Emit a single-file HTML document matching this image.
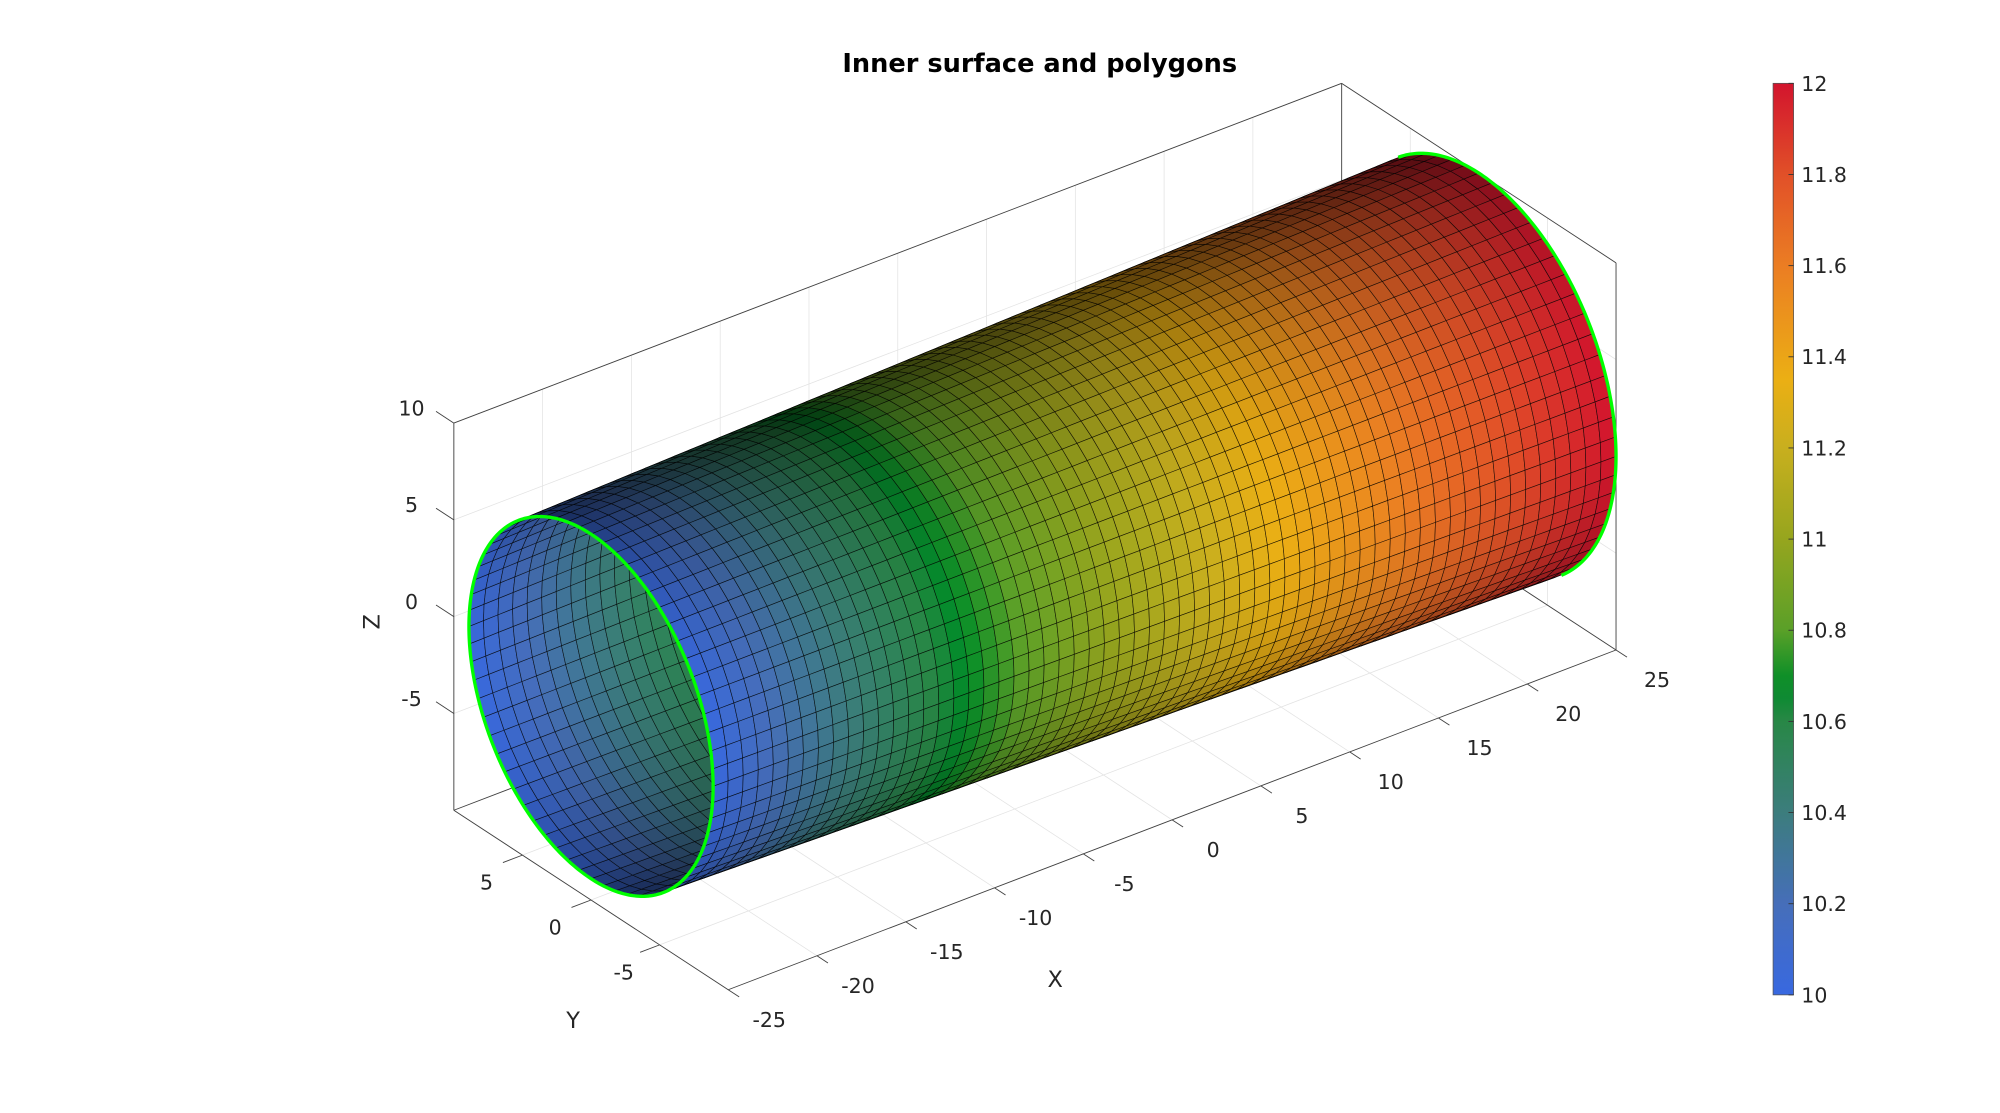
<!DOCTYPE html>
<html><head><meta charset="utf-8"><style>
html,body{margin:0;padding:0;background:#fff;}
svg{display:block;font-family:"DejaVu Sans","Liberation Sans",sans-serif;}
</style></head>
<body>
<svg id="chart" width="2000" height="1113" viewBox="0 0 1560 868.14" xmlns="http://www.w3.org/2000/svg">
<defs>
<linearGradient id="cbgrad" x1="0" y1="1" x2="0" y2="0"></linearGradient>
</defs>
<rect width="1560" height="869" fill="#fff"/>
<text x="811" y="56" text-anchor="middle" font-weight="bold" font-size="20" fill="#000">Inner surface and polygons</text>
<g id="grid"></g>
<g id="box"></g>
<g id="surf"></g>
<g id="rims"></g>
<g id="ticks"></g>
<g id="cbar"></g>
</svg>
<script>
const xTicks = [-25,-20,-15,-10,-5,0,5,10,15,20,25];
const yTicks = [-5,0,5];
const zTicks = [-5,0,5,10];
const cbTicks = [10,10.2,10.4,10.6,10.8,11,11.2,11.4,11.6,11.8,12];
const xLim = [-25,25], yLim = [-10,10], zLim = [-10,10];
const radiusEnds = [8.9,10];
const colorRange = [10,12];
const cmapVals = [10,10.2,10.4,10.6,10.68,10.8,11,11.2,11.35,11.6,11.8,12];
const cmapR = [56,70,60,40,0,90,150,200,235,235,225,210];
const cmapG = [104,110,125,135,140,160,165,175,175,125,80,20];
const cmapB = [224,185,125,70,40,40,30,30,20,35,40,45];

const NS="http://www.w3.org/2000/svg";
function mk(tag,attrs,parent){const e=document.createElementNS(NS,tag);for(const k in attrs)e.setAttribute(k,attrs[k]);parent.appendChild(e);return e;}
function P(x,y,z){
  return [568+(x-xLim[0])*13.85-(y-yLim[0])*10.7, 772-(x-xLim[0])*5.3-(y-yLim[0])*7.0-(z-zLim[0])*15.1];
}
function cmap(v){
  if(v<=cmapVals[0])return [cmapR[0],cmapG[0],cmapB[0]];
  for(let i=1;i<cmapVals.length;i++){
    if(v<=cmapVals[i]){const t=(v-cmapVals[i-1])/(cmapVals[i]-cmapVals[i-1]);
      return [cmapR[i-1]+t*(cmapR[i]-cmapR[i-1]),cmapG[i-1]+t*(cmapG[i]-cmapG[i-1]),cmapB[i-1]+t*(cmapB[i]-cmapB[i-1])];}
  }
  const n=cmapVals.length-1;return [cmapR[n],cmapG[n],cmapB[n]];
}
const grid=document.getElementById('grid'),box=document.getElementById('box'),surf=document.getElementById('surf'),rims=document.getElementById('rims'),ticks=document.getElementById('ticks'),cbar=document.getElementById('cbar');
function line(a,b,stroke,w,parent,name){const l=mk('line',{x1:a[0],y1:a[1],x2:b[0],y2:b[1],stroke:stroke,'stroke-width':w},parent);
  
  return l;}
const gc="#e3e3e3";
xTicks.forEach(x=>{line(P(x,yLim[1],zLim[0]),P(x,yLim[1],zLim[1]),gc,0.6,grid,'grid-back-x');
  line(P(x,yLim[0],zLim[0]),P(x,yLim[1],zLim[0]),gc,0.6,grid,'grid-floor-x');});
zTicks.forEach(z=>{line(P(xLim[0],yLim[1],z),P(xLim[1],yLim[1],z),gc,0.6,grid,'grid-back-z');
  line(P(xLim[1],yLim[0],z),P(xLim[1],yLim[1],z),gc,0.6,grid,'grid-side-z');});
yTicks.forEach(y=>{line(P(xLim[0],y,zLim[0]),P(xLim[1],y,zLim[0]),gc,0.6,grid,'grid-floor-y');
  line(P(xLim[1],y,zLim[0]),P(xLim[1],y,zLim[1]),gc,0.6,grid,'grid-side-y');});
const bc="#404040";
[[[xLim[0],yLim[1],zLim[1]],[xLim[1],yLim[1],zLim[1]]],[[xLim[1],yLim[1],zLim[1]],[xLim[1],yLim[0],zLim[1]]],
 [[xLim[1],yLim[0],zLim[1]],[xLim[1],yLim[0],zLim[0]]],[[xLim[0],yLim[1],zLim[0]],[xLim[0],yLim[1],zLim[1]]],
 [[xLim[0],yLim[1],zLim[0]],[xLim[0],yLim[0],zLim[0]]],[[xLim[0],yLim[0],zLim[0]],[xLim[1],yLim[0],zLim[0]]],
 [[xLim[1],yLim[1],zLim[0]],[xLim[1],yLim[1],zLim[1]]],[[xLim[0],yLim[1],zLim[0]],[xLim[1],yLim[1],zLim[0]]],
 [[xLim[1],yLim[1],zLim[0]],[xLim[1],yLim[0],zLim[0]]]].forEach(s=>line(P(...s[0]),P(...s[1]),bc,0.7,box,'box-edge'));
const V=[-163.4,-211.9,155.7];
const L=[-0.3,-0.8,0.25];
const nT=64,nX=60;
const back=[],front=[];
function rad(x){return radiusEnds[0]+(x-xLim[0])/(xLim[1]-xLim[0])*(radiusEnds[1]-radiusEnds[0]);}
for(let i=0;i<nX;i++){
  const x0=xLim[0]+(xLim[1]-xLim[0])*i/nX, x1=xLim[0]+(xLim[1]-xLim[0])*(i+1)/nX, xm=(x0+x1)/2;
  const f=(xm-xLim[0])/(xLim[1]-xLim[0]);
  const val=colorRange[0]+Math.pow(f,0.85)*(colorRange[1]-colorRange[0]);
  const base=cmap(val);
  for(let j=0;j<nT;j++){
    const t0=2*Math.PI*j/nT,t1=2*Math.PI*(j+1)/nT,tm=(t0+t1)/2;
    const ny=Math.cos(tm),nz=Math.sin(tm);
    const facing=V[1]*ny+V[2]*nz>0;
    const sgn=facing?1:-1;
    let d=sgn*(L[1]*ny+L[2]*nz); const I=Math.min(1,0.42+0.7*Math.max(0,d));
    const col=`rgb(${Math.round(base[0]*I)},${Math.round(base[1]*I)},${Math.round(base[2]*I)})`;
    const pts=[P(x0,rad(x0)*Math.cos(t0),rad(x0)*Math.sin(t0)),P(x1,rad(x1)*Math.cos(t0),rad(x1)*Math.sin(t0)),
      P(x1,rad(x1)*Math.cos(t1),rad(x1)*Math.sin(t1)),P(x0,rad(x0)*Math.cos(t1),rad(x0)*Math.sin(t1))];
    (facing?front:back).push({pts,col});
  }
}
back.concat(front).forEach(q=>{
  const p=mk('polygon',{points:q.pts.map(a=>a[0].toFixed(2)+','+a[1].toFixed(2)).join(' '),fill:q.col,stroke:'rgba(0,0,0,0.75)','stroke-width':0.5,'stroke-linejoin':'round'},surf);
  
  
});
function rimPath(x,onlyFront){
  let d='',pen=false;
  for(let k=0;k<=360;k++){const t=2*Math.PI*k/360;const ny=Math.cos(t),nz=Math.sin(t);
    const vis=!onlyFront||(V[1]*ny+V[2]*nz>0);
    if(vis){const p=P(x,rad(x)*ny,rad(x)*nz);d+=(pen?'L':'M')+p[0].toFixed(2)+','+p[1].toFixed(2);pen=true;}else pen=false;}
  return d;
}
const r1=mk('path',{d:rimPath(xLim[0],false),fill:'none',stroke:'#00ff00','stroke-width':2.6},rims);


const r2=mk('path',{d:rimPath(xLim[1],true),fill:'none',stroke:'#00ff00','stroke-width':2.6},rims);


function txt(s,x,y,name,extra){const t=mk('text',Object.assign({x:x,y:y,'font-size':16,fill:'#262626','text-anchor':'middle'},extra||{}),ticks);t.textContent=s;
  
  return t;}
xTicks.forEach(x=>{const a=P(x,yLim[0],zLim[0]);line(a,P(x,yLim[0]-0.8,zLim[0]),bc,0.7,ticks,'x-tick');
  txt(String(x),a[0]+32,a[1]+29,'x-tick-label');});
yTicks.forEach(y=>{const a=P(xLim[0],y,zLim[0]);line(a,P(xLim[0]-1.1,y,zLim[0]),bc,0.7,ticks,'y-tick');
  txt(String(y),a[0]-28,a[1]+27,'y-tick-label');});
zTicks.forEach(z=>{const a=P(xLim[0],yLim[1],z);line(a,P(xLim[0],yLim[1]+1.3,z),bc,0.7,ticks,'z-tick');
  txt(String(z),a[0]-33,a[1]-6,'z-tick-label');});
txt('X',823,770,'x-axis-title',{'font-size':17.5});
txt('Y',447,802,'y-axis-title',{'font-size':17.5});
txt('Z',296,485,'z-axis-title',{'font-size':17.5,transform:'rotate(-90 296 485)'});
const g=document.getElementById('cbgrad');
for(let k=0;k<=40;k++){const v=colorRange[0]+(colorRange[1]-colorRange[0])*k/40;const c=cmap(v);
  mk('stop',{offset:(k/40).toFixed(3),'stop-color':`rgb(${Math.round(c[0])},${Math.round(c[1])},${Math.round(c[2])})`},g);}
const cbTop=65,cbBot=776,cbL=1383,cbW=16;
const cr=mk('rect',{x:cbL,y:cbTop,width:cbW,height:cbBot-cbTop,fill:'url(#cbgrad)',stroke:'#555','stroke-width':0.6},cbar);


cbTicks.forEach(v=>{const y=cbBot-(v-colorRange[0])/(colorRange[1]-colorRange[0])*(cbBot-cbTop);
  line([cbL+cbW-4,y],[cbL+cbW,y],'#333',0.7,cbar,'colorbar-tick');
  const t=mk('text',{x:cbL+22,y:y+5.8,'font-size':16,fill:'#262626'},cbar);t.textContent=String(v);
  
  });
</script>
</body></html>
